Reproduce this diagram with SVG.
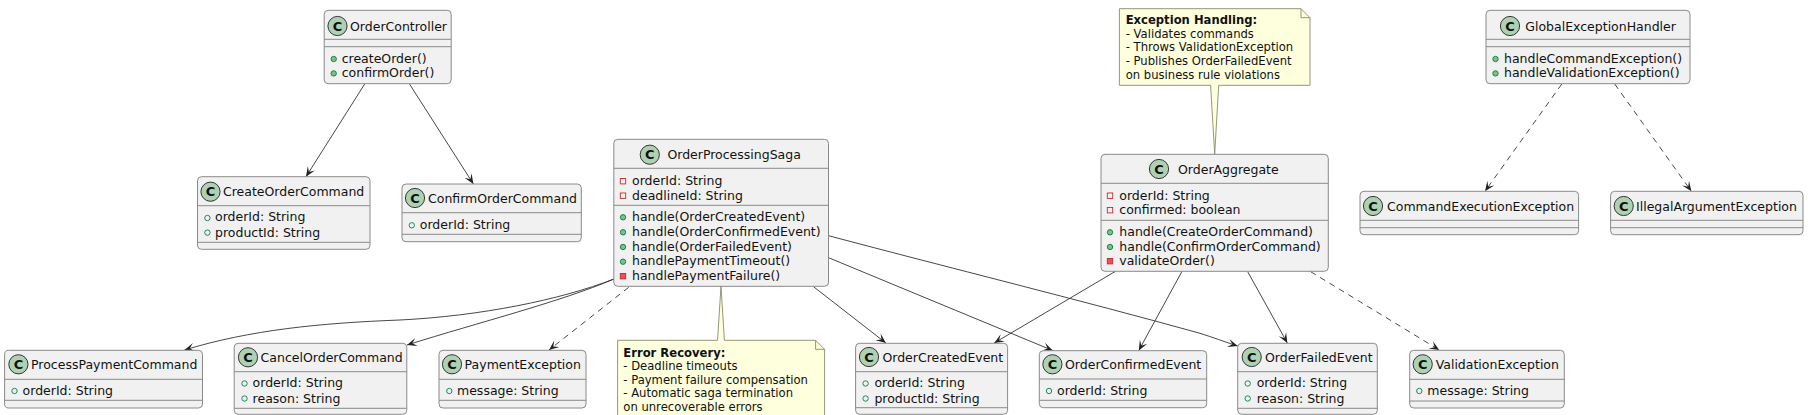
<svg xmlns="http://www.w3.org/2000/svg" width="1808" height="415" viewBox="0 0 1808 415">
<style>
text{font-family:"DejaVu Sans",sans-serif;font-size:12.5px;fill:#111}
.b{fill:#F1F1F1;stroke:#8a8a8a;stroke-width:1}
.l{stroke:#8a8a8a;stroke-width:1}
.i{fill:#ADD1B2;stroke:#222;stroke-width:.9}
.k{font-size:13px;font-weight:bold;text-anchor:middle}
.n{fill:#FEFFDD;stroke:#8a8a6e;stroke-width:.9}
.f{fill:none;stroke:#8a8a6e;stroke-width:.9}
.t{font-size:11.6px}
.h{font-size:11.6px;font-weight:bold}
.fp{fill:none;stroke:#038048;stroke-width:.9}
.mp{fill:#84BE84;stroke:#038048;stroke-width:.9}
.fv{fill:none;stroke:#C82930;stroke-width:.9}
.mv{fill:#F24D5C;stroke:#C82930;stroke-width:.9}
.e{fill:none;stroke:#333;stroke-width:.9;marker-end:url(#a)}
.d{stroke-dasharray:6 5}
</style>
<defs>
<marker id="a" markerUnits="userSpaceOnUse" markerWidth="12" markerHeight="10" refX="10" refY="5" orient="auto">
<path d="M10 5L0 .8L4.5 5L0 9.2Z" fill="#222"/>
</marker>
</defs>
<g id="connectors">
<path class="e" d="M364.7 84L306 176.7"/>
<path class="e" d="M409.5 84L473.4 184"/>
<path class="e" d="M614 279C560 300 480 316 400 320C320 323 250 330 184.5 350"/>
<path class="e" d="M614 279C560 302 480 322 407 345"/>
<path class="e d" d="M628.7 287.3L549 350"/>
<path class="e" d="M813.5 286.7L885.9 343"/>
<path class="e" d="M828.5 257.7L1052.7 350.5"/>
<path class="e" d="M828.5 235.7C950 268 1080 300 1200 333.3C1212 337 1225 342 1237.7 346"/>
<path class="e" d="M1115.5 271.3L994.2 343"/>
<path class="e" d="M1182 271.3L1138.8 350.5"/>
<path class="e" d="M1247.7 271.7L1287.3 343"/>
<path class="e d" d="M1310.7 271.7L1439.3 350"/>
<path class="e d" d="M1561.8 84L1485 191.3"/>
<path class="e d" d="M1614.7 84L1691.4 191.3"/>
</g>
<g id="OrderController">
<rect class="b" x="324.2" y="10.3" width="127" height="73.4" rx="4"/>
<path class="l" d="M324.2 39.3H451.2M324.2 46.7H451.2"/>
<circle class="i" cx="337.5" cy="26" r="9.6"/><text class="k" x="337.5" y="30.7">C</text>
<text x="350" y="30.5">OrderController</text>
<circle class="mp" cx="333.7" cy="59" r="2.7"/><text x="341.7" y="63">createOrder()</text>
<circle class="mp" cx="333.7" cy="73.4" r="2.7"/><text x="341.7" y="77.4">confirmOrder()</text>
</g>
<g id="CreateOrderCommand">
<rect class="b" x="197.5" y="176.7" width="172.5" height="72.6" rx="4"/>
<path class="l" d="M197.5 205.7H370M197.5 242.3H370"/>
<circle class="i" cx="210.5" cy="191.7" r="9.6"/><text class="k" x="210.5" y="196.4">C</text>
<text x="223" y="196.2">CreateOrderCommand</text>
<circle class="fp" cx="207.4" cy="218" r="2.7"/><text x="215" y="221.2">orderId: String</text>
<circle class="fp" cx="207.4" cy="232.6" r="2.7"/><text x="215" y="236.5">productId: String</text>
</g>
<g id="ConfirmOrderCommand">
<rect class="b" x="402" y="184" width="179.3" height="57.7" rx="4"/>
<path class="l" d="M402 212.7H581.3M402 234.3H581.3"/>
<circle class="i" cx="415" cy="198" r="9.6"/><text class="k" x="415" y="202.7">C</text>
<text x="428" y="202.5">ConfirmOrderCommand</text>
<circle class="fp" cx="411.8" cy="225.3" r="2.7"/><text x="419.8" y="229.2">orderId: String</text>
</g>
<g id="ProcessPaymentCommand">
<rect class="b" x="4.6" y="350.3" width="197.9" height="57.7" rx="4"/>
<path class="l" d="M4.6 379.3H202.5M4.6 400.3H202.5"/>
<circle class="i" cx="18.4" cy="364.3" r="9.6"/><text class="k" x="18.4" y="369">C</text>
<text x="31" y="368.8">ProcessPaymentCommand</text>
<circle class="fp" cx="14.5" cy="391" r="2.7"/><text x="22.6" y="394.5">orderId: String</text>
</g>
<g id="CancelOrderCommand">
<rect class="b" x="234.2" y="343.3" width="172.6" height="71" rx="4"/>
<path class="l" d="M234.2 371.7H406.8M234.2 408.3H406.8"/>
<circle class="i" cx="248" cy="357.3" r="9.6"/><text class="k" x="248" y="362">C</text>
<text x="260.6" y="361.8">CancelOrderCommand</text>
<circle class="fp" cx="244.5" cy="383.5" r="2.7"/><text x="252.6" y="387.2">orderId: String</text>
<circle class="fp" cx="244.5" cy="398.5" r="2.7"/><text x="252.6" y="402.5">reason: String</text>
</g>
<g id="PaymentException">
<rect class="b" x="439" y="350.3" width="147" height="57.7" rx="4"/>
<path class="l" d="M439 379.3H586M439 400.3H586"/>
<circle class="i" cx="452" cy="364.3" r="9.6"/><text class="k" x="452" y="369">C</text>
<text x="464.6" y="368.8">PaymentException</text>
<circle class="fp" cx="449.3" cy="391" r="2.7"/><text x="457" y="394.5">message: String</text>
</g>
<g id="OrderProcessingSaga">
<rect class="b" x="613.8" y="139.3" width="214.7" height="147" rx="4"/>
<path class="l" d="M613.8 168.3H828.5M613.8 205.3H828.5"/>
<circle class="i" cx="649.8" cy="154.7" r="9.6"/><text class="k" x="649.8" y="159.4">C</text>
<text x="667.4" y="159.2">OrderProcessingSaga</text>
<rect class="fv" x="620.3" y="178.5" width="5.4" height="5.4"/><text x="632" y="184.8">orderId: String</text>
<rect class="fv" x="620.3" y="193" width="5.4" height="5.4"/><text x="632" y="199.5">deadlineId: String</text>
<circle class="mp" cx="623" cy="217.3" r="2.7"/><text x="632" y="220.8">handle(OrderCreatedEvent)</text>
<circle class="mp" cx="623" cy="232.3" r="2.7"/><text x="632" y="236.2">handle(OrderConfirmedEvent)</text>
<circle class="mp" cx="623" cy="247" r="2.7"/><text x="632" y="250.5">handle(OrderFailedEvent)</text>
<circle class="mp" cx="623" cy="261.7" r="2.7"/><text x="632" y="265.2">handlePaymentTimeout()</text>
<rect class="mv" x="620.3" y="273.5" width="5.4" height="5.4"/><text x="632" y="279.5">handlePaymentFailure()</text>
</g>
<g id="ErrorRecoveryNote">
<path class="n" d="M617.6 340.3H717.5L721 286.3L724.4 340.3H815.6L824.6 349.3V425H617.6Z"/>
<path class="f" d="M815.6 340.3V349.3H824.6"/>
<text class="h" x="623.3" y="356.6">Error Recovery:</text>
<text class="t" x="623.3" y="370">- Deadline timeouts</text>
<text class="t" x="623.3" y="383.6">- Payment failure compensation</text>
<text class="t" x="623.3" y="397.3">- Automatic saga termination</text>
<text class="t" x="623.3" y="410.6">on unrecoverable errors</text>
</g>
<g id="OrderCreatedEvent">
<rect class="b" x="855.6" y="343.3" width="152" height="71" rx="4"/>
<path class="l" d="M855.6 371.7H1007.6M855.6 407.7H1007.6"/>
<circle class="i" cx="869" cy="357" r="9.6"/><text class="k" x="869" y="361.7">C</text>
<text x="882.4" y="361.5">OrderCreatedEvent</text>
<circle class="fp" cx="865.6" cy="383.5" r="2.7"/><text x="874.4" y="387.2">orderId: String</text>
<circle class="fp" cx="865.6" cy="398.5" r="2.7"/><text x="874.4" y="402.5">productId: String</text>
</g>
<g id="OrderConfirmedEvent">
<rect class="b" x="1039.3" y="350.7" width="167.4" height="57" rx="4"/>
<path class="l" d="M1039.3 379H1206.7M1039.3 400.3H1206.7"/>
<circle class="i" cx="1052.4" cy="364.3" r="9.6"/><text class="k" x="1052.4" y="369">C</text>
<text x="1065" y="368.8">OrderConfirmedEvent</text>
<circle class="fp" cx="1049" cy="391" r="2.7"/><text x="1057" y="394.5">orderId: String</text>
</g>
<g id="OrderFailedEvent">
<rect class="b" x="1237.7" y="343.3" width="139.6" height="71" rx="4"/>
<path class="l" d="M1237.7 371.7H1377.3M1237.7 408.3H1377.3"/>
<circle class="i" cx="1251.7" cy="357" r="9.6"/><text class="k" x="1251.7" y="361.7">C</text>
<text x="1265" y="361.5">OrderFailedEvent</text>
<circle class="fp" cx="1247.7" cy="383.5" r="2.7"/><text x="1256.7" y="387.2">orderId: String</text>
<circle class="fp" cx="1247.7" cy="398.5" r="2.7"/><text x="1256.7" y="402.5">reason: String</text>
</g>
<g id="ValidationException">
<rect class="b" x="1409.7" y="350.3" width="154.6" height="57.7" rx="4"/>
<path class="l" d="M1409.7 379.3H1564.3M1409.7 401H1564.3"/>
<circle class="i" cx="1422.7" cy="364.3" r="9.6"/><text class="k" x="1422.7" y="369">C</text>
<text x="1435.7" y="368.8">ValidationException</text>
<circle class="fp" cx="1419.3" cy="391" r="2.7"/><text x="1427.3" y="394.5">message: String</text>
</g>
<g id="OrderAggregate">
<rect class="b" x="1101" y="154.3" width="227.3" height="117" rx="4"/>
<path class="l" d="M1101 183.3H1328.3M1101 220.3H1328.3"/>
<circle class="i" cx="1159" cy="169" r="9.6"/><text class="k" x="1159" y="173.7">C</text>
<text x="1178" y="173.5">OrderAggregate</text>
<rect class="fv" x="1107.3" y="193" width="5.4" height="5.4"/><text x="1119.3" y="199.5">orderId: String</text>
<rect class="fv" x="1107.3" y="207.5" width="5.4" height="5.4"/><text x="1119.3" y="213.5">confirmed: boolean</text>
<circle class="mp" cx="1110" cy="232.3" r="2.7"/><text x="1119.3" y="235.8">handle(CreateOrderCommand)</text>
<circle class="mp" cx="1110" cy="247" r="2.7"/><text x="1119.3" y="250.5">handle(ConfirmOrderCommand)</text>
<rect class="mv" x="1107.3" y="258.5" width="5.4" height="5.4"/><text x="1119.3" y="265.2">validateOrder()</text>
</g>
<g id="ExceptionHandlingNote">
<path class="n" d="M1119.4 8.7H1301L1310 17.7V85.3H1218.7L1214.7 154L1210.6 85.3H1119.4Z"/>
<path class="f" d="M1301 8.7V17.7H1310"/>
<text class="h" x="1125.7" y="24.3">Exception Handling:</text>
<text class="t" x="1125.7" y="37.6">- Validates commands</text>
<text class="t" x="1125.7" y="51.3">- Throws ValidationException</text>
<text class="t" x="1125.7" y="65">- Publishes OrderFailedEvent</text>
<text class="t" x="1125.7" y="79">on business rule violations</text>
</g>
<g id="GlobalExceptionHandler">
<rect class="b" x="1486" y="10.3" width="204" height="73.4" rx="4"/>
<path class="l" d="M1486 39.3H1690M1486 46.7H1690"/>
<circle class="i" cx="1510" cy="26" r="9.6"/><text class="k" x="1510" y="30.7">C</text>
<text x="1525.3" y="30.5">GlobalExceptionHandler</text>
<circle class="mp" cx="1495.5" cy="59" r="2.7"/><text x="1504" y="63">handleCommandException()</text>
<circle class="mp" cx="1495.5" cy="73.4" r="2.7"/><text x="1504" y="77.4">handleValidationException()</text>
</g>
<g id="CommandExecutionException">
<rect class="b" x="1360" y="191.3" width="218.6" height="43.4" rx="4"/>
<path class="l" d="M1360 220.3H1578.6M1360 227.7H1578.6"/>
<circle class="i" cx="1373" cy="206" r="9.6"/><text class="k" x="1373" y="210.7">C</text>
<text x="1387" y="210.5">CommandExecutionException</text>
</g>
<g id="IllegalArgumentException">
<rect class="b" x="1610.6" y="191.3" width="192.4" height="43.4" rx="4"/>
<path class="l" d="M1610.6 220.3H1803M1610.6 227.7H1803"/>
<circle class="i" cx="1623.7" cy="206" r="9.6"/><text class="k" x="1623.7" y="210.7">C</text>
<text x="1636" y="210.5">IllegalArgumentException</text>
</g>
</svg>
